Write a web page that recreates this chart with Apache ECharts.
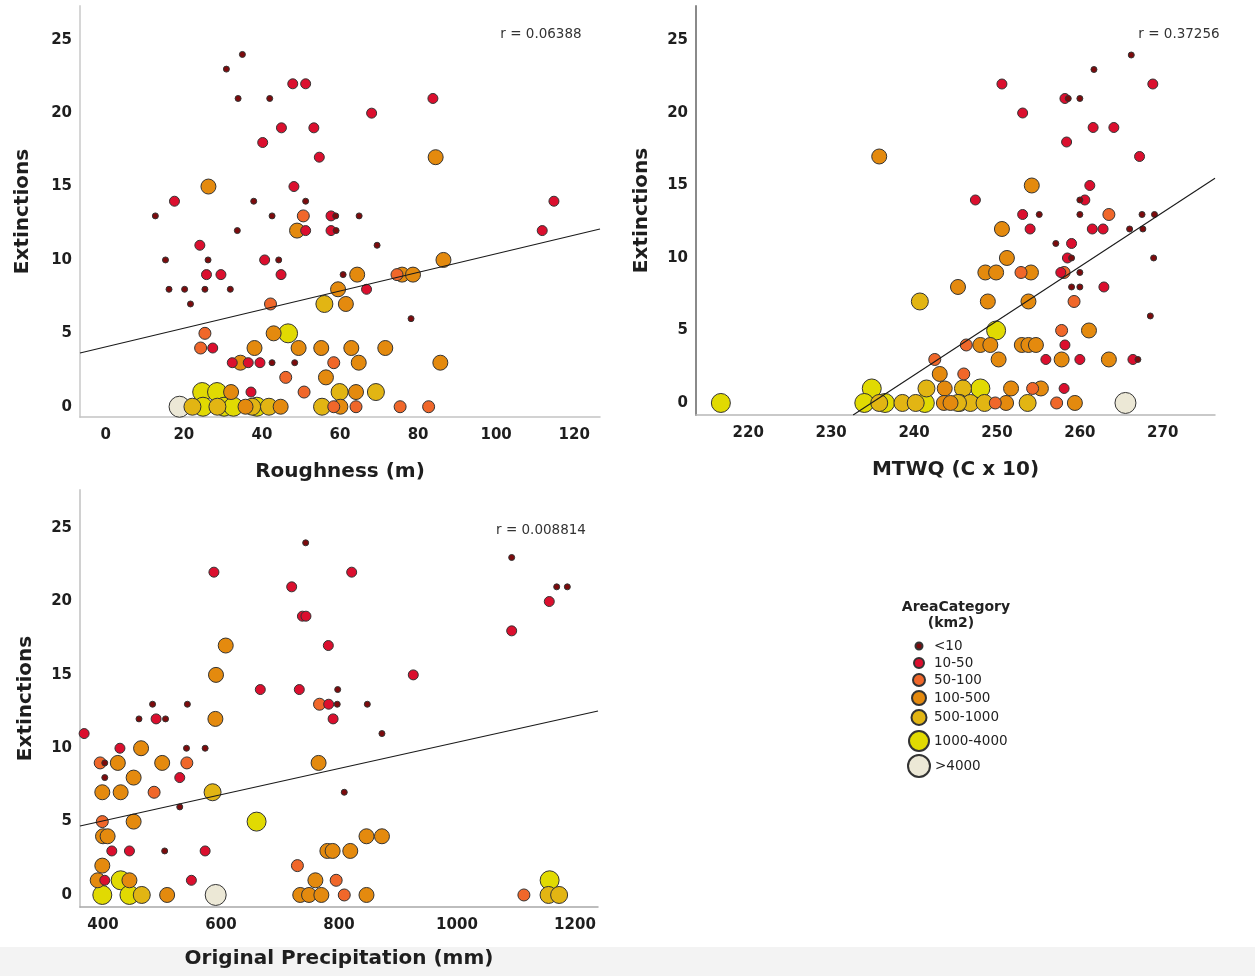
<!DOCTYPE html>
<html><head><meta charset="utf-8">
<script src="https://cdn.jsdelivr.net/npm/echarts@6/dist/echarts.min.js"></script>
<style>
html,body{margin:0;padding:0;}
body{background:linear-gradient(#ffffff 0, #ffffff 947px, #f3f3f3 947px, #f3f3f3 976px);}
#c{width:1255px;height:976px;}
</style>
</head><body><div id="c"></div>
<script>
// ---- categories (AreaCategory km2) ----
const categories = ['<10','10-50','50-100','100-500','500-1000','1000-4000','>4000'];
const catColors = ['#7d0a0c','#db0f2e','#f0672a','#e48a0e','#e2b513','#e1da02','#ece8d6'];

// ---- points: [x, extinctions, categoryIndex] ----
const roughnessPts = [
 [35.0,24,0],[30.9,23,0],[33.9,21,0],[42.0,21,0],[37.9,14,0],[51.2,14,0],[12.7,13,0],[42.6,13,0],[58.9,13,0],[64.9,13,0],
 [33.7,12,0],[59.0,12,0],[69.5,11,0],[15.3,10,0],[26.2,10,0],[44.3,10,0],[60.8,9,0],[16.2,8,0],[20.2,8,0],[25.4,8,0],[31.9,8,0],
 [21.7,7,0],[78.2,6,0],[42.6,3,0],[48.4,3,0],
 [47.9,22,1],[51.2,22,1],[45.0,19,1],[53.3,19,1],[40.2,18,1],[54.7,17,1],[48.2,15,1],[17.6,14,1],[57.7,13,1],[51.2,12,1],
 [57.7,12,1],[68.1,20,1],[83.8,21,1],[114.8,14,1],[111.8,12,1],[24.1,11,1],[40.7,10,1],[25.8,9,1],[29.5,9,1],[44.9,9,1],
 [66.8,8,1],[27.4,4,1],[32.4,3,1],[36.5,3,1],[39.5,3,1],[37.2,1,1],
 [50.6,13,2],[42.2,7,2],[25.4,5,2],[24.3,4,2],[58.4,3,2],[46.1,2,2],[50.8,1,2],[74.6,9,2],[58.4,0,2],[64.1,0,2],[75.4,0,2],[82.7,0,2],
 [26.3,15,3],[84.5,17,3],[49.0,12,3],[59.5,8,3],[43.0,5,3],[38.1,4,3],[49.4,4,3],[55.2,4,3],[34.5,3,3],[56.4,2,3],[32.1,1,3],
 [86.5,10,3],[64.4,9,3],[75.9,9,3],[78.7,9,3],[61.5,7,3],[62.9,4,3],[71.6,4,3],[64.8,3,3],[85.7,3,3],[64.1,1,3],[44.8,0,3],[60.1,0,3],[35.8,0,3],
 [56.0,7,4],[59.9,1,4],[69.2,1,4],[22.2,0,4],[28.6,0,4],[37.5,0,4],[41.8,0,4],[55.4,0,4],
 [46.7,5,5],[24.7,1,5],[28.5,1,5],[24.9,0,5],[30.3,0,5],[32.7,0,5],[38.7,0,5],
 [18.9,0,6]
];
const mtwqPts = [
 [266.2,24,0],[261.7,23,0],[258.6,21,0],[260.0,21,0],[260.0,14,0],[255.1,13,0],[260.0,13,0],[267.5,13,0],[269.0,13,0],[266.0,12,0],
 [267.6,12,0],[257.1,11,0],[259.0,10,0],[268.9,10,0],[260.0,9,0],[259.0,8,0],[260.0,8,0],[268.5,6,0],[267.0,3,0],
 [250.6,22,1],[268.8,22,1],[258.2,21,1],[253.1,20,1],[261.6,19,1],[264.1,19,1],[258.4,18,1],[267.2,17,1],[261.2,15,1],[247.4,14,1],
 [260.6,14,1],[253.1,13,1],[254.0,12,1],[261.5,12,1],[262.8,12,1],[259.0,11,1],[258.5,10,1],[257.7,9,1],[262.9,8,1],[258.2,4,1],
 [255.9,3,1],[260.0,3,1],[266.4,3,1],[258.1,1,1],
 [263.5,13,2],[252.9,9,2],[258.1,9,2],[259.3,7,2],[257.8,5,2],[246.3,4,2],[246.0,2,2],[254.3,1,2],[249.8,0,2],[257.2,0,2],[242.5,3,2],
 [235.8,17,3],[254.2,15,3],[250.6,12,3],[251.2,10,3],[248.6,9,3],[249.9,9,3],[254.1,9,3],[245.3,8,3],[248.9,7,3],[253.8,7,3],
 [261.1,5,3],[248.0,4,3],[249.2,4,3],[253.0,4,3],[253.8,4,3],[254.7,4,3],[250.2,3,3],[257.8,3,3],[263.5,3,3],[251.7,1,3],
 [255.3,1,3],[251.1,0,3],[259.4,0,3],[243.1,2,3],[243.7,1,3],[243.6,0,3],[244.4,0,3],
 [240.7,7,4],[245.9,1,4],[241.5,1,4],[245.5,0,4],[246.8,0,4],[248.5,0,4],[253.7,0,4],[235.8,0,4],[238.6,0,4],[240.2,0,4],[245.3,0,4],
 [249.9,5,5],[248.0,1,5],[234.9,1,5],[216.7,0,5],[234.0,0,5],[236.5,0,5],[241.3,0,5],
 [265.5,0,6]
];
const precipPts = [
 [743.5,24,0],[797.8,14,0],[484,13,0],[543,13,0],[797,13,0],[848,13,0],[461,12,0],[506,12,0],[872.8,11,0],[541.5,10,0],
 [573.1,10,0],[403,9,0],[403,8,0],[808.9,7,0],[530.1,6,0],[504.5,3,0],[1092.7,23,0],[1169,21,0],[1187,21,0],
 [588,22,1],[719.8,21,1],[738,19,1],[744,19,1],[781.9,17,1],[666.6,14,1],[732.7,14,1],[782.5,13,1],[490,12,1],[790,12,1],
 [368,11,1],[428.7,10,1],[530.1,8,1],[414.9,3,1],[444.8,3,1],[573.1,3,1],[403,1,1],[549.8,1,1],[821.5,22,1],[1156.4,20,1],
 [1092.7,18,1],[925.9,15,1],
 [767,13,2],[395.2,9,2],[542.1,9,2],[486.6,7,2],[398.8,5,2],[729.5,2,2],[795.2,1,2],[808.9,0,2],[1113.4,0,2],
 [608,17,3],[591.5,15,3],[590.5,12,3],[464.5,10,3],[425.1,9,3],[500.3,9,3],[765.4,9,3],[451.9,8,3],[398.8,7,3],[429.9,7,3],
 [451.9,5,3],[400,4,3],[407.8,4,3],[846.6,4,3],[872.8,4,3],[780.3,3,3],[789.2,3,3],[819.1,3,3],[398.8,2,3],[391,1,3],
 [444.8,1,3],[760,1,3],[508.7,0,3],[734.3,0,3],[749.2,0,3],[770.1,0,3],[846.6,0,3],
 [585.7,7,4],[465.7,0,4],[1155.2,0,4],[1173.1,0,4],
 [660.3,5,5],[429.9,1,5],[1157,1,5],[398.8,0,5],[444.8,0,5],
 [591,0,6]
];

// ---- fit lines (end points, data units) ----
const roughnessFit = [[-6.6,3.66],[126.6,12.11]];
const mtwqFit = [[232.65,-0.83],[276.3,15.5]];
const precipFit = [[361,4.70],[1239,12.54]];

// ---- tick labels ----
const roughnessTicks = [0,20,40,60,80,100,120];
const mtwqTicks = [220,230,240,250,260,270];
const precipTicks = [400,600,800,1000,1200];
const extinctionTicks = [0,5,10,15,20,25];

const rValues = ['r = 0.06388','r = 0.37256','r = 0.008814'];
const xTitles = ['Roughness (m)','MTWQ (C x 10)','Original Precipitation (mm)'];
const yTitle = 'Extinctions';

// ---- styling / layout ----
const plotSizes = [6,10,12,15,17,19,21];
const legendSizes = [7,10,12,14,15,20,22];
const FONT = 'DejaVu Sans';

const grids = [
 {left:80, top:6, width:520, height:411},
 {left:696, top:6, width:519, height:409},
 {left:80, top:490, width:518, height:417}
];
const xRanges = [[-6.6,126.6],[213.7,276.3],[361,1239]];
const yRanges = [[-0.70,27.3],[-0.83,27.38],[-0.82,27.6]];
const xTickSets = [roughnessTicks, mtwqTicks, precipTicks];
const yLineColors = ['#d6d6d6','#8a8a8a','#d0d0d0'];
const xLineColors = ['#c4c4c4','#b8b8b8','#a8a8a8'];
const pointSets = [roughnessPts, mtwqPts, precipPts];
const fits = [roughnessFit, mtwqFit, precipFit];

const xAxes = [], yAxes = [], series = [];
for (let p = 0; p < 3; p++) {
  xAxes.push({
    type:'value', gridIndex:p, min:xRanges[p][0], max:xRanges[p][1],
    name:xTitles[p], nameLocation:'middle', nameGap:p===2?42:45,
    nameTextStyle:{fontFamily:FONT, fontWeight:'bold', fontSize:20, color:'#1e1e1e'},
    axisLine:{show:true, onZero:false, lineStyle:{color:xLineColors[p], width:1.5}},
    axisTick:{show:false}, splitLine:{show:false},
    axisLabel:{customValues:xTickSets[p], formatter:v => String(v), fontFamily:FONT, fontWeight:'bold', fontSize:15, color:'#1e1e1e', margin:11}
  });
  yAxes.push({
    type:'value', gridIndex:p, min:yRanges[p][0], max:yRanges[p][1],
    name:yTitle, nameLocation:'middle', nameGap:p===1?44:(p===2?44:47), nameRotate:90,
    nameTextStyle:{fontFamily:FONT, fontWeight:'bold', fontSize:20, color:'#1e1e1e'},
    axisLine:{show:true, onZero:false, lineStyle:{color:yLineColors[p], width:2}},
    axisTick:{show:false}, splitLine:{show:false},
    axisLabel:{customValues:extinctionTicks, formatter:v => String(v), fontFamily:FONT, fontWeight:'bold', fontSize:15, color:'#1e1e1e', margin:8}
  });
  for (let c = categories.length - 1; c >= 0; c--) {
    series.push({
      type:'scatter', name:categories[c], xAxisIndex:p, yAxisIndex:p,
      data:pointSets[p].filter(d => d[2] === c).map(d => [d[0], d[1]]),
      symbol:'circle', symbolSize:plotSizes[c],
      itemStyle:{color:catColors[c], borderColor:'#333', borderWidth:1, opacity:1},
      emphasis:{disabled:true}, silent:true, z:2
    });
  }
  series.push({
    type:'line', xAxisIndex:p, yAxisIndex:p, data:fits[p], symbol:'none',
    lineStyle:{color:'#1a1a1a', width:1.1}, silent:true, z:4, animation:false
  });
}

// legend: one legend component per category (different icon sizes)
const legendCenters = [647,664,681,698,717,740,765];
const legendIconX = 918, legendTextX = 933;
const legends = categories.map((c, i) => {
  const s = legendSizes[i];
  return {
    data:[c], left:legendIconX - s / 2, top:legendCenters[i] - Math.max(s, 16) / 2,
    padding:0, itemWidth:s, itemHeight:s, icon:'circle', selectedMode:false,
    textStyle:{fontFamily:FONT, fontSize:13.5, color:'#222',
      padding:[0, 0, 0, Math.max(0, legendTextX - (legendIconX + s / 2 + 5))]}
  };
});

const rPos = [[541,34],[1179,34],[541,530]];
const graphics = rValues.map((t, i) => ({
  type:'text', x:rPos[i][0], y:rPos[i][1], silent:true,
  style:{text:t, fill:'#333', font:'13.5px "DejaVu Sans"', align:'center', verticalAlign:'middle'}
}));
graphics.push({type:'text', x:956, y:607, silent:true,
  style:{text:'AreaCategory', fill:'#222', font:'bold 14px "DejaVu Sans"', align:'center', verticalAlign:'middle'}});
graphics.push({type:'text', x:951, y:623, silent:true,
  style:{text:'(km2)', fill:'#222', font:'bold 14px "DejaVu Sans"', align:'center', verticalAlign:'middle'}});

const chart = echarts.init(document.getElementById('c'), null, {renderer:'canvas'});
chart.setOption({
  animation:false,
  backgroundColor:'transparent',
  grid:grids,
  xAxis:xAxes, yAxis:yAxes,
  legend:legends,
  graphic:graphics,
  series:series
});
</script>
</body></html>
